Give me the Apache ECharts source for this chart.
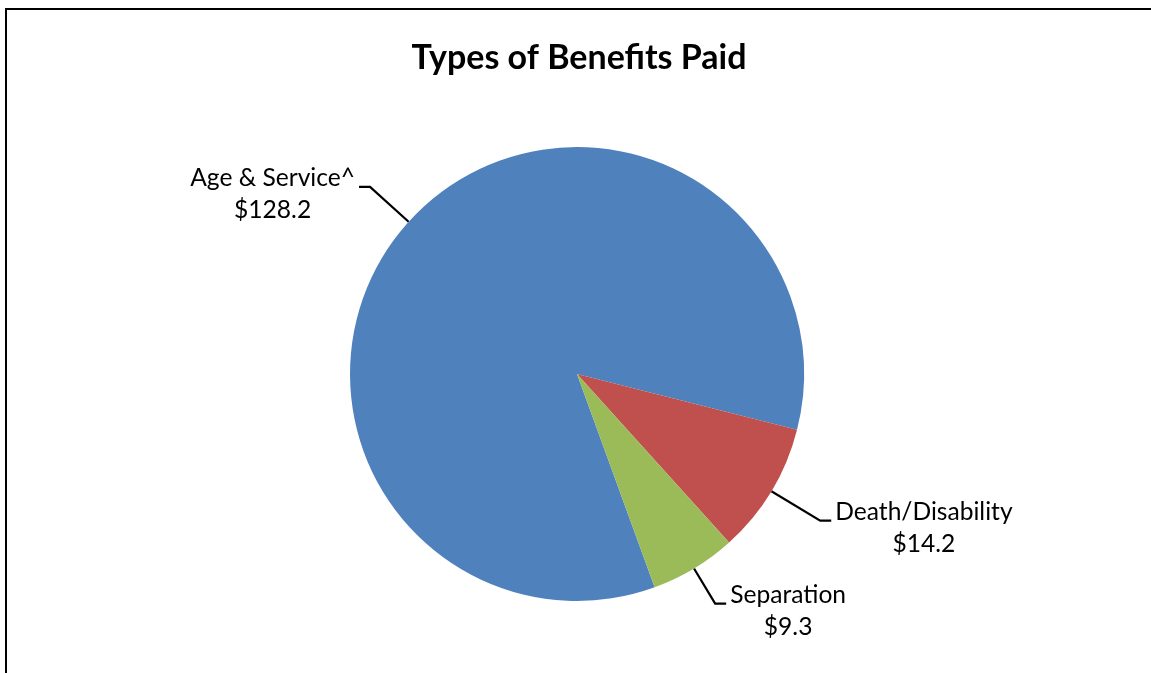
<!DOCTYPE html>
<html>
<head>
<meta charset="utf-8">
<script src="https://cdn.jsdelivr.net/npm/echarts@6/dist/echarts.min.js"></script>
<style>html,body{margin:0;padding:0;background:#fff;}#c{width:1151px;height:673px;}</style>
</head>
<body>
<div id="c"></div>
<script>
const categories = ['Age & Service^', 'Death/Disability', 'Separation'];
const values = [128.2, 14.2, 9.3];
const colors = ['#4F81BD', '#C0504D', '#9BBB59'];
const lineLengths = [52, 57, 41];

const FONT = 'Lato';
const chart = echarts.init(document.getElementById('c'), null, {renderer: 'canvas'});
chart.setOption({
  backgroundColor: '#fff',
  animation: false,
  title: {
    text: 'Types of Benefits Paid',
    left: 574, top: 36, textAlign: 'center',
    textStyle: {fontFamily: FONT, fontWeight: 'bold', fontSize: 34, color: '#000'}
  },
  graphic: [{
    type: 'rect', silent: true, z: 100,
    shape: {x: 6, y: 9, width: 1200, height: 700},
    style: {fill: null, stroke: '#000', lineWidth: 2}
  }],
  series: [{
    type: 'pie',
    center: [577, 374],
    radius: 227,
    startAngle: 290,
    clockwise: true,
    avoidLabelOverlap: false,
    itemStyle: {borderWidth: 0},
    label: {
      show: true, position: 'outside', alignTo: 'none',
      formatter: '{a|{b}}\n{a|${c}}',
      padding: [15, 0, 0, 0],
      distanceToLabelLine: 4,
      rich: {a: {fontFamily: FONT, fontSize: 24.6, lineHeight: 32, color: '#000', align: 'center'}}
    },
    labelLine: {show: true, length2: 11, smooth: false, lineStyle: {color: '#000', width: 2.2}},
    data: categories.map((n, i) => ({
      name: n, value: values[i],
      itemStyle: {color: colors[i]},
      labelLine: {length: lineLengths[i]}
    }))
  }]
});
</script>
</body>
</html>
